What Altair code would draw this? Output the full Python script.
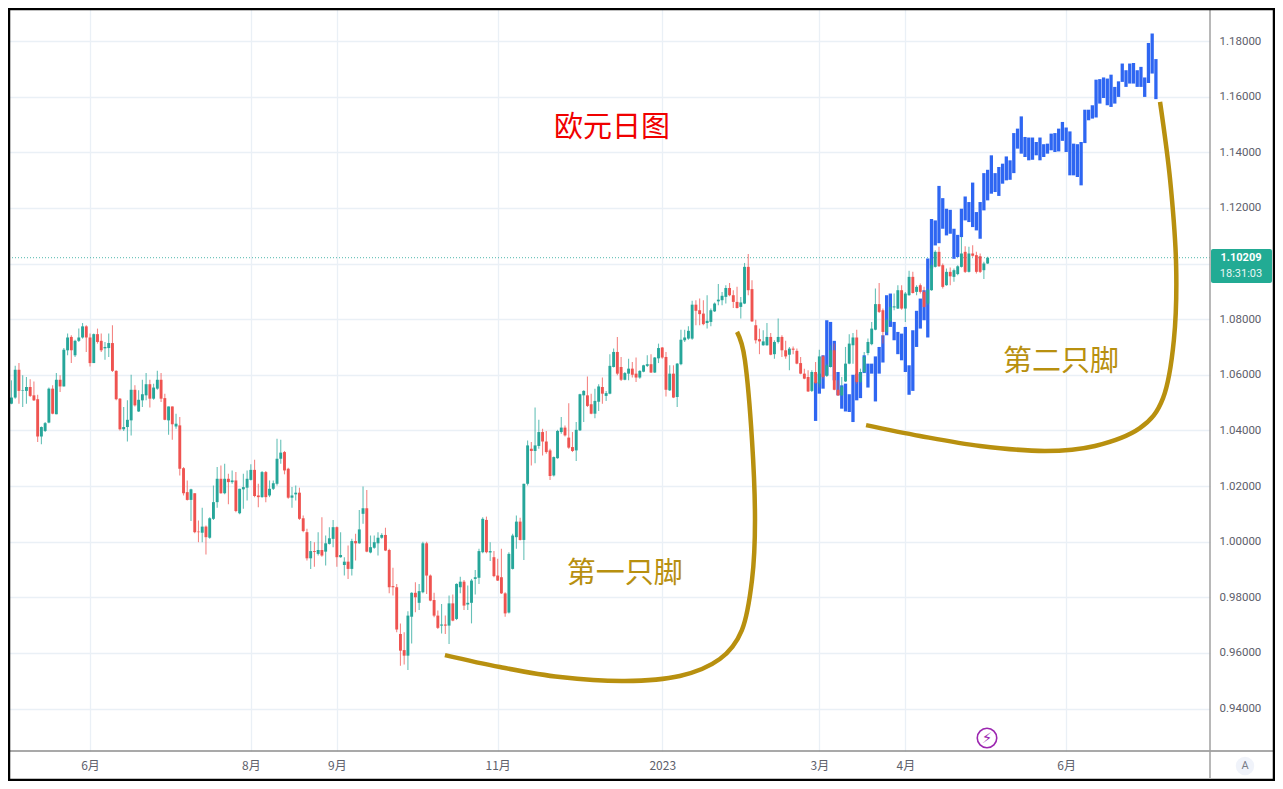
import altair as alt
import pandas as pd

FONT = "Noto Sans CJK SC"

# candles: (open, high, low, close)
candles_a = [
(1.0496,1.0592,1.0490,1.0544),(1.0542,1.0568,1.0494,1.0496),(1.0496,1.0580,1.0494,1.0518),(1.0518,1.0632,1.0514,1.0618),
(1.0618,1.0642,1.0496,1.0542),(1.0542,1.0598,1.0484,1.0544),(1.0542,1.0592,1.0496,1.0556),(1.0556,1.0584,1.0520,1.0524),
(1.0526,1.0576,1.0506,1.0508),(1.0512,1.0528,1.0358,1.0378),(1.0378,1.0414,1.0350,1.0412),(1.0398,1.0430,1.0394,1.0426),
(1.0428,1.0554,1.0426,1.0550),(1.0550,1.0562,1.0458,1.0460),(1.0458,1.0606,1.0458,1.0582),(1.0582,1.0598,1.0538,1.0558),
(1.0558,1.0696,1.0558,1.0690),(1.0688,1.0748,1.0670,1.0734),(1.0736,1.0742,1.0642,1.0688),(1.0670,1.0726,1.0664,1.0722),
(1.0722,1.0766,1.0718,1.0734),(1.0734,1.0786,1.0730,1.0774),(1.0774,1.0778,1.0682,1.0734),(1.0734,1.0748,1.0630,1.0642),
(1.0642,1.0748,1.0642,1.0746),(1.0746,1.0766,1.0712,1.0718),(1.0722,1.0748,1.0682,1.0688),(1.0695,1.0718,1.0654,1.0700),
(1.0696,1.0748,1.0664,1.0714),(1.0714,1.0778,1.0610,1.0614),(1.0614,1.0616,1.0508,1.0512),(1.0514,1.0516,1.0400,1.0404),
(1.0404,1.0484,1.0398,1.0412),(1.0412,1.0508,1.0360,1.0438),(1.0436,1.0600,1.0382,1.0546),(1.0546,1.0562,1.0486,1.0490),
(1.0468,1.0544,1.0466,1.0510),(1.0508,1.0582,1.0484,1.0530),(1.0526,1.0606,1.0508,1.0566),(1.0566,1.0582,1.0482,1.0514),
(1.0514,1.0568,1.0510,1.0554),(1.0550,1.0614,1.0546,1.0582),(1.0582,1.0606,1.0502,1.0514),(1.0516,1.0532,1.0436,1.0438),
(1.0436,1.0486,1.0384,1.0486),(1.0486,1.0486,1.0366,1.0422),(1.0414,1.0460,1.0406,1.0424),(1.0418,1.0448,1.0238,1.0262),
(1.0264,1.0268,1.0166,1.0174),(1.0178,1.0220,1.0148,1.0150),(1.0150,1.0190,1.0074,1.0188),(1.0174,1.0174,1.0030,1.0034),
(1.0036,1.0076,0.9998,1.0034),(1.0032,1.0122,0.9998,1.0054),(1.0054,1.0058,0.9954,1.0016),(1.0014,1.0088,1.0010,1.0084),
(1.0082,1.0202,1.0078,1.0142),(1.0142,1.0268,1.0122,1.0226),(1.0226,1.0274,1.0172,1.0174),(1.0174,1.0280,1.0170,1.0226),
(1.0226,1.0244,1.0134,1.0214),(1.0214,1.0256,1.0208,1.0220),(1.0220,1.0250,1.0106,1.0110),(1.0102,1.0190,1.0098,1.0190),
(1.0188,1.0244,1.0118,1.0196),(1.0194,1.0256,1.0148,1.0226),(1.0222,1.0278,1.0220,1.0258),(1.0258,1.0294,1.0160,1.0164),
(1.0166,1.0208,1.0124,1.0160),
]
candles_b = [
(1.0160,1.0254,1.0158,1.0250),(1.0250,1.0254,1.0142,1.0160),(1.0166,1.0220,1.0160,1.0190),(1.0190,1.0220,1.0186,1.0210),
(1.0208,1.0370,1.0202,1.0298),(1.0298,1.0366,1.0280,1.0320),(1.0322,1.0326,1.0242,1.0256),(1.0262,1.0266,1.0154,1.0158),
(1.0158,1.0196,1.0122,1.0166),(1.0170,1.0202,1.0148,1.0176),(1.0176,1.0194,1.0078,1.0082),(1.0084,1.0094,1.0034,1.0038),
(1.0034,1.0046,0.9932,0.9940),(0.9940,1.0002,0.9902,0.9966),(0.9966,0.9998,0.9910,0.9963),(0.9956,1.0034,0.9950,0.9970),
(0.9970,1.0088,0.9946,0.9950),(0.9964,1.0022,0.9914,0.9994),(0.9992,1.0052,0.9990,1.0012),(1.0010,1.0078,0.9980,1.0052),
(1.0052,1.0054,0.9910,0.9944),(0.9944,1.0034,0.9942,0.9952),(0.9916,0.9944,0.9878,0.9928),(0.9928,0.9986,0.9866,0.9902),
(0.9902,1.0010,0.9878,1.0002),(1.0002,1.0028,0.9932,0.9994),(0.9994,1.0114,0.9992,1.0044),(1.0100,1.0198,1.0064,1.0120),
(1.0120,1.0186,0.9962,0.9964),(0.9961,1.0022,0.9958,0.9980),(0.9978,1.0022,0.9974,0.9998),(0.9994,1.0034,0.9950,1.0014),
(1.0014,1.0030,1.0010,1.0024),(1.0024,1.0050,0.9966,0.9968),(0.9970,0.9974,0.9814,0.9836),(0.9840,0.9906,0.9806,0.9836),
(0.9836,0.9848,0.9674,0.9684),(0.9668,0.9706,0.9554,0.9608),(0.9610,0.9674,0.9558,0.9590),(0.9590,0.9750,0.9538,0.9734),
(0.9730,0.9818,0.9634,0.9816),(0.9816,0.9854,0.9746,0.9800),(0.9780,0.9848,0.9754,0.9822),(0.9818,1.0000,0.9814,0.9994),
(0.9994,1.0000,0.9812,0.9878),(0.9878,0.9882,0.9786,0.9788),(0.9790,0.9816,0.9728,0.9734),(0.9734,0.9752,0.9686,0.9690),
(0.9698,0.9776,0.9670,0.9702),(0.9702,0.9734,0.9668,0.9698),(0.9698,0.9806,0.9632,0.9778),(0.9778,0.9810,0.9714,0.9716),
(0.9722,0.9850,0.9718,0.9848),(0.9836,0.9874,0.9814,0.9856),(0.9856,0.9862,0.9754,0.9770),(0.9774,0.9842,0.9754,0.9780),
(0.9780,0.9866,0.9706,0.9860),(0.9866,0.9898,0.9810,0.9872),(0.9870,0.9974,0.9848,0.9966),(0.9962,1.0088,0.9958,1.0082),
(1.0078,1.0090,0.9958,0.9962),(0.9961,0.9998,0.9930,0.9966),(0.9944,0.9966,0.9872,0.9876),(0.9878,0.9938,0.9858,0.9860),
(0.9872,0.9974,0.9812,0.9814),(0.9814,0.9818,0.9730,0.9742),(0.9745,0.9962,0.9742,0.9956),(0.9902,1.0028,0.9900,1.0022),
(1.0016,1.0094,0.9974,1.0072),(1.0072,1.0086,1.0004,1.0006),(1.0006,1.0208,0.9934,1.0208),(1.0208,1.0364,1.0202,1.0346),
]
candles_c = [
(1.0334,1.0358,1.0274,1.0326),(1.0326,1.0482,1.0282,1.0346),(1.0344,1.0438,1.0334,1.0394),(1.0394,1.0406,1.0310,1.0360),
(1.0360,1.0398,1.0316,1.0322),(1.0328,1.0334,1.0222,1.0236),(1.0238,1.0306,1.0234,1.0304),(1.0300,1.0402,1.0298,1.0398),
(1.0394,1.0448,1.0388,1.0410),(1.0410,1.0418,1.0378,1.0382),(1.0374,1.0498,1.0334,1.0338),(1.0340,1.0394,1.0322,1.0326),
(1.0328,1.0430,1.0290,1.0402),(1.0400,1.0532,1.0398,1.0530),(1.0526,1.0544,1.0430,1.0542),(1.0526,1.0594,1.0484,1.0488),
(1.0494,1.0532,1.0458,1.0460),(1.0460,1.0550,1.0444,1.0506),(1.0503,1.0566,1.0470,1.0558),(1.0556,1.0590,1.0496,1.0532),
(1.0524,1.0542,1.0506,1.0534),(1.0532,1.0674,1.0530,1.0632),(1.0628,1.0694,1.0626,1.0682),(1.0682,1.0736,1.0598,1.0604),
(1.0628,1.0664,1.0578,1.0582),(1.0582,1.0610,1.0580,1.0606),(1.0604,1.0658,1.0580,1.0622),(1.0622,1.0646,1.0590,1.0600),
(1.0604,1.0662,1.0574,1.0590),(1.0590,1.0616,1.0586,1.0614),(1.0611,1.0636,1.0609,1.0634),(1.0632,1.0670,1.0628,1.0638),
(1.0638,1.0674,1.0606,1.0608),(1.0608,1.0664,1.0606,1.0662),(1.0659,1.0712,1.0642,1.0696),(1.0698,1.0700,1.0658,1.0662),
(1.0664,1.0682,1.0522,1.0546),(1.0544,1.0634,1.0542,1.0604),(1.0604,1.0634,1.0516,1.0518),(1.0520,1.0642,1.0484,1.0640),
(1.0638,1.0762,1.0634,1.0726),(1.0724,1.0762,1.0718,1.0734),(1.0730,1.0774,1.0726,1.0758),(1.0730,1.0866,1.0726,1.0852),
(1.0852,1.0868,1.0778,1.0830),(1.0832,1.0874,1.0778,1.0818),(1.0820,1.0868,1.0778,1.0782),(1.0786,1.0886,1.0766,1.0794),
(1.0790,1.0838,1.0774,1.0832),(1.0828,1.0860,1.0826,1.0856),(1.0864,1.0926,1.0850,1.0870),(1.0868,1.0898,1.0850,1.0884),
(1.0880,1.0922,1.0856,1.0912),(1.0912,1.0930,1.0882,1.0886),(1.0886,1.0904,1.0840,1.0862),(1.0862,1.0916,1.0838,1.0840),
(1.0844,1.0880,1.0802,1.0860),(1.0856,1.1002,1.0854,1.0988),(1.0988,1.1034,1.0886,1.0904),(1.0908,1.0940,1.0790,1.0792),
]
candles_d = [
(1.0778,1.0798,1.0712,1.0724),(1.0728,1.0766,1.0674,1.0720),(1.0706,1.0760,1.0704,1.0720),(1.0706,1.0786,1.0704,1.0736),
(1.0736,1.0750,1.0670,1.0672),(1.0674,1.0724,1.0658,1.0718),(1.0718,1.0802,1.0712,1.0736),(1.0736,1.0742,1.0664,1.0688),
(1.0688,1.0722,1.0658,1.0666),(1.0672,1.0700,1.0616,1.0694),(1.0694,1.0702,1.0674,1.0690),(1.0686,1.0694,1.0638,1.0640),
(1.0642,1.0664,1.0602,1.0604),(1.0604,1.0622,1.0584,1.0586),(1.0592,1.0616,1.0538,1.0540),(1.0542,1.0616,1.0538,1.0610),
(1.0610,1.0646,1.0568,1.0570),(1.0568,1.0690,1.0554,1.0666),(1.0666,1.0670,1.0586,1.0592),(1.0596,1.0640,1.0592,1.0634),
(1.0628,1.0706,1.0626,1.0688),(1.0688,1.0712,1.0544,1.0546),(1.0546,1.0580,1.0524,1.0526),(1.0526,1.0592,1.0524,1.0556),
(1.0576,1.0700,1.0574,1.0640),(1.0640,1.0746,1.0638,1.0712),(1.0706,1.0750,1.0640,1.0734),(1.0734,1.0762,1.0568,1.0574),
(1.0574,1.0622,1.0570,1.0610),(1.0610,1.0682,1.0606,1.0664),(1.0678,1.0730,1.0670,1.0718),(1.0710,1.0790,1.0706,1.0766),
(1.0762,1.0910,1.0760,1.0854),(1.0854,1.0930,1.0822,1.0826),(1.0832,1.0838,1.0712,1.0754),(1.0754,1.0802,1.0748,1.0796),
(1.0794,1.0868,1.0790,1.0844),(1.0842,1.0892,1.0832,1.0846),(1.0838,1.0922,1.0836,1.0904),(1.0904,1.0922,1.0834,1.0838),
(1.0838,1.0898,1.0790,1.0892),(1.0886,1.0974,1.0884,1.0952),(1.0952,1.0970,1.0892,1.0894),(1.0898,1.0922,1.0886,1.0916),
(1.0922,1.0928,1.0892,1.0898),(1.0898,1.0916,1.0842,1.0844),(1.0856,1.0910,1.0850,1.0906),(1.0904,1.1018,1.0902,1.0994),
(1.0988,1.1048,1.0986,1.1042),(1.1042,1.1060,1.0988,1.0990),(1.0994,1.1000,1.0910,1.0916),(1.0922,1.0982,1.0920,1.0970),
(1.0970,1.0986,1.0922,1.0954),(1.0952,1.0982,1.0934,1.0976),(1.0962,1.0994,1.0958,1.0990),(1.0988,1.1096,1.0986,1.1036),
(1.1042,1.1062,1.0966,1.0970),(1.0970,1.1060,1.0968,1.1036),(1.1036,1.1066,1.1024,1.1028),(1.1030,1.1042,1.0964,1.0970),
(1.1026,1.1036,1.0966,1.0970),(1.0976,1.1006,1.0944,1.1000),(1.1000,1.1024,1.0998,1.1021),
]

# blue projected range bars: (high, low); first bar sits at slot 217
blue_start = 217
blue_a = [
(1.0574,1.0434),(1.0604,1.0532),(1.0670,1.0550),(1.0796,1.0598),(1.0790,1.0628),(1.0722,1.0580),(1.0610,1.0526),(1.0562,1.0478),
(1.0568,1.0468),(1.0530,1.0466),(1.0600,1.0430),(1.0604,1.0508),(1.0610,1.0516),(1.0670,1.0606),(1.0640,1.0554),(1.0640,1.0604),
(1.0666,1.0504),(1.0700,1.0604),(1.0742,1.0644),(1.0886,1.0742),(1.0892,1.0772),(1.0790,1.0724),(1.0754,1.0674),(1.0748,1.0652),
(1.0772,1.0610),(1.0634,1.0528),(1.0760,1.0542),(1.0830,1.0700),(1.0874,1.0766),(1.0904,1.0796),(1.1018,1.0734),(1.1160,1.0982),
]
blue_b = [
(1.1155,1.1065),(1.1279,1.1073),(1.1235,1.1125),(1.1197,1.1101),(1.1193,1.1107),(1.1125,1.1017),(1.1103,1.1023),(1.1197,1.1095),
(1.1241,1.1155),(1.1221,1.1149),(1.1291,1.1131),(1.1185,1.1119),(1.1221,1.1089),(1.1325,1.1191),(1.1337,1.1227),(1.1389,1.1251),
(1.1325,1.1257),(1.1347,1.1243),(1.1359,1.1287),(1.1385,1.1299),(1.1371,1.1301),(1.1469,1.1325),(1.1485,1.1413),(1.1529,1.1395),
(1.1455,1.1383),(1.1453,1.1371),(1.1453,1.1373),(1.1437,1.1389),(1.1453,1.1371),(1.1429,1.1383),(1.1431,1.1395),(1.1467,1.1407),
(1.1469,1.1401),(1.1485,1.1403),(1.1509,1.1441),(1.1489,1.1401),(1.1475,1.1317),(1.1431,1.1317),(1.1429,1.1311),(1.1437,1.1281),
(1.1553,1.1433),(1.1553,1.1515),(1.1569,1.1521),(1.1661,1.1525),(1.1663,1.1575),(1.1669,1.1595),(1.1665,1.1569),(1.1679,1.1563),
(1.1635,1.1575),(1.1655,1.1599),(1.1719,1.1653),(1.1695,1.1635),(1.1719,1.1647),(1.1721,1.1647),(1.1695,1.1635),(1.1707,1.1635),
(1.1669,1.1599),(1.1793,1.1649),(1.1827,1.1683),(1.1735,1.1591),
]

foot1_x = [117.9,132.6,148.7,166.0,180.7,191.4,197.3,200.0,200.8,200.0,198.1,196.0]
foot1_y = [0.9592,0.9549,0.9513,0.9499,0.9517,0.9578,0.9682,0.9862,1.0078,1.0365,1.0653,1.0754]
foot2_x = [230.5,244.9,261.0,278.3,291.7,303.7,309.9,312.8,313.4,311.8,309.1]
foot2_y = [1.0419,1.0380,1.0344,1.0326,1.0344,1.0408,1.0516,1.0725,1.0995,1.1300,1.1581]

notes = ["欧元日图", "第一只脚", "第二只脚"]
notes_x = [162.6, 166.0, 282.6]
notes_y = [1.1487, 0.9884, 1.0646]
notes_color = ["#f00000", "#b8900f", "#b8900f"]

month_slots = [23, 66, 89, 132, 176, 218, 241, 284]
month_labels = ["6月", "8月", "9月", "11月", "2023", "3月", "4月", "6月"]
price_ticks = [0.94, 0.96, 0.98, 1.00, 1.02, 1.04, 1.06, 1.08, 1.10, 1.12, 1.14, 1.16, 1.18]
last_price = 1.10209

rows = candles_a + candles_b + candles_c + candles_d
cdf = pd.DataFrame(rows, columns=["o", "h", "l", "c"])
cdf["i"] = range(len(cdf))
cdf["dir"] = ["up" if r[3] >= r[0] else "down" for r in rows]

blue = blue_a + blue_b
bdf = pd.DataFrame(blue, columns=["h", "l"])
bdf["i"] = range(blue_start, blue_start + len(blue))

label_map = ",".join(f"'{s}':'{t}'" for s, t in zip(month_slots, month_labels))
x_scale = alt.Scale(domain=[1.07, 322.46], nice=False, zero=False)
y_scale = alt.Scale(domain=[0.92472, 1.19187], nice=False, zero=False)
GRID = "#eaf0f6"
x_axis = alt.Axis(values=month_slots, labelExpr="{" + label_map + "}['' + datum.value]", grid=True, gridColor=GRID,
                  gridWidth=1.3, domain=False, ticks=False, title=None, labelFont=FONT, labelFontSize=12,
                  labelColor="#5d606b", labelPadding=9, labelOverlap=False, labelBound=False)
# the 1.10000 label is hidden behind the last-price tag in the reference
y_axis = alt.Axis(values=price_ticks, orient="right", grid=True, gridColor=GRID, gridWidth=1.3,
                  labelExpr="abs(datum.value - 1.1) < 0.001 ? '' : format(datum.value, '.5f')",
                  domain=False, ticks=False, title=None, labelFont="Roboto", labelFontSize=11.5,
                  labelColor="#5d606b", labelPadding=9, labelOverlap=False)
X = alt.X("i:Q", scale=x_scale, axis=x_axis)
def Y(field):
    return alt.Y(field, scale=y_scale, axis=y_axis)
color = alt.Color("dir:N", scale=alt.Scale(domain=["up", "down"], range=["#26a69a", "#ef5350"]), legend=None)

price_line = alt.Chart(pd.DataFrame({"p": [last_price]})).mark_rule(
    color="#26a69a", strokeDash=[1, 2], strokeWidth=1, opacity=0.8).encode(y=Y("p:Q"))

blue_bars = alt.Chart(bdf).mark_rule(strokeWidth=3.3, color="#2e66f2").encode(x=X, y=Y("l:Q"), y2="h:Q")
wicks = alt.Chart(cdf).mark_rule(strokeWidth=1.1, opacity=0.7).encode(x=X, y=Y("l:Q"), y2="h:Q", color=color)
bodies = alt.Chart(cdf).mark_rule(strokeWidth=2.9).encode(x=X, y=Y("o:Q"), y2="c:Q", color=color)

def foot(xs, ys):
    d = pd.DataFrame({"i": xs, "p": ys, "k": range(len(xs))})
    return alt.Chart(d).mark_line(color="#b8900f", strokeWidth=4.5, interpolate="cardinal").encode(
        x=X, y=Y("p:Q"), order="k:Q")

note_df = pd.DataFrame({"i": notes_x, "p": notes_y, "t": notes, "c": notes_color})
note_text = alt.Chart(note_df).mark_text(font=FONT, fontSize=29).encode(
    x=X, y=Y("p:Q"), text="t:N", color=alt.Color("c:N", scale=None))

one = pd.DataFrame({"a": [0]})
h_rule = alt.Chart(one).mark_rule(color="#8c8c8c", strokeWidth=1.5).encode(
    x=alt.value(0), x2=alt.value(1267), y=alt.value(743))
v_rule = alt.Chart(one).mark_rule(color="#a0a0a0", strokeWidth=1.5).encode(
    x=alt.value(1202), y=alt.value(0), y2=alt.value(770))
frame = alt.Chart(one).mark_rect(fillOpacity=0, stroke="#000000", strokeWidth=2.5).encode(
    x=alt.value(1), x2=alt.value(1266), y=alt.value(1), y2=alt.value(772))
tag = alt.Chart(one).mark_rect(color="#22ab94", cornerRadius=2).encode(
    x=alt.value(1203), x2=alt.value(1264), y=alt.value(241), y2=alt.value(275))
tag1 = alt.Chart(one).mark_text(text="1.10209", font="Roboto", fontSize=11, fontWeight="bold", color="#ffffff").encode(
    x=alt.value(1233), y=alt.value(250))
tag2 = alt.Chart(one).mark_text(text="18:31:03", font="Roboto", fontSize=11, color="#e8f6f3").encode(
    x=alt.value(1233), y=alt.value(266))
a_dot = alt.Chart(one).mark_point(filled=True, size=340, color="#f0f3fa", opacity=1).encode(
    x=alt.value(1237), y=alt.value(758))
a_txt = alt.Chart(one).mark_text(text="A", font="Roboto", fontSize=11, color="#787b86").encode(
    x=alt.value(1237), y=alt.value(758))
bolt_ring = alt.Chart(one).mark_point(size=380, color="#9c27b0", strokeWidth=1.6, opacity=1).encode(
    x=alt.value(979), y=alt.value(730))
bolt = alt.Chart(one).mark_text(text="⚡", font="DejaVu Sans", fontSize=15, color="#9c27b0").encode(
    x=alt.value(979), y=alt.value(730))

chart = alt.layer(
    price_line, blue_bars, wicks, bodies, foot(foot1_x, foot1_y), foot(foot2_x, foot2_y), note_text,
    h_rule, v_rule, tag, tag1, tag2, a_dot, a_txt, bolt_ring, bolt, frame
).properties(
    width=1202, height=743, padding={"left": 0, "top": 0, "right": 65, "bottom": 30},
    autosize=alt.AutoSizeParams(type="none"), background="#ffffff"
).configure_view(stroke=None)

chart.save("out.html", embed_options={"renderer": "svg", "actions": False})
